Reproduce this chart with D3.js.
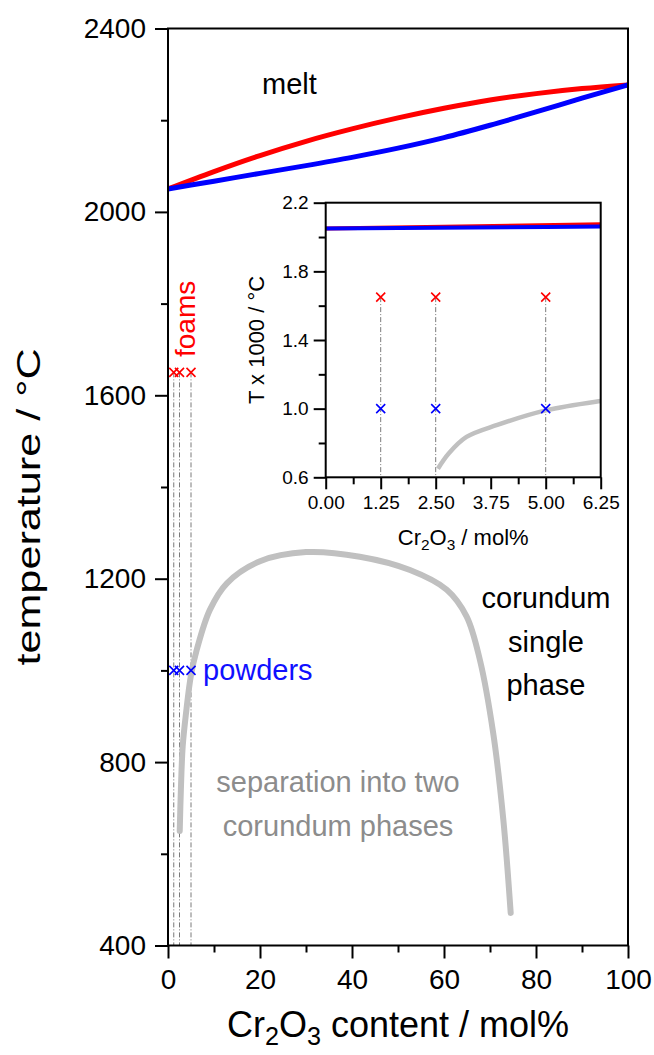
<!DOCTYPE html>
<html>
<head>
<meta charset="utf-8">
<script src="https://cdn.jsdelivr.net/npm/d3@7"></script>
<style>
  html, body { margin: 0; padding: 0; background: #fff; }
  svg { display: block; font-family: "Liberation Sans", Arial, sans-serif; }
</style>
</head>
<body>
<svg id="chart" width="654" height="1055"></svg>
<script>
// Composition axis (mol% Cr2O3) shared by the liquidus and solidus curves
const meltX = [0, 10, 20, 30, 40, 50, 60, 70, 80, 90, 100];
// Liquidus (red) and solidus (blue), °C
const liquidusT = [2050, 2088, 2123, 2154, 2181, 2205, 2226, 2244, 2258, 2269, 2277];
const solidusT  = [2050, 2067, 2084, 2101, 2119, 2139, 2162, 2189, 2218, 2248, 2277];
// Miscibility gap (grey): composition (mol%) and temperature (°C)
const gapX = [2.55, 2.8, 3.2, 3.9, 5.0, 6.25, 9.1, 12.8, 20, 30, 41.7, 52.6, 60.6, 64.9, 67.8, 70.7, 72.9, 74.5];
const gapT = [650, 740, 835, 905, 990, 1045, 1132, 1190, 1238, 1258, 1248, 1219, 1176, 1118, 1023, 863, 674, 471];
// Sample compositions and treatment temperatures
const sampleX = [1.25, 2.5, 5];
const foamT = 1650;
const powderT = 1000;
// Tick values
const mainXTicks = [0, 20, 40, 60, 80, 100];
const mainXMinor = [10, 30, 50, 70, 90];
const mainYTicks = [400, 800, 1200, 1600, 2000, 2400];
const mainYMinor = [600, 1000, 1400, 1800, 2200];
const insetXTicks = [0, 1.25, 2.5, 3.75, 5, 6.25];
const insetXMinor = [0.625, 1.875, 3.125, 4.375, 5.625];
const insetYTicks = [0.6, 1.0, 1.4, 1.8, 2.2];
const insetYMinor = [0.8, 1.2, 1.6, 2.0];

const RED = "#ff0000", BLUE = "#0000ff", GREY = "#c0c0c0", DASH = "#7a7a7a";
const svg = d3.select("#chart");

const meltData = meltX.map((x, i) => ({x, liq: liquidusT[i], sol: solidusT[i]}));
const gapData = gapX.map((x, i) => ({x, t: gapT[i]}));

// ---------- main panel ----------
const L = 168, R = 628, T = 28.5, B = 945.5;
const x = d3.scaleLinear().domain([0, 100]).range([L, R]);
const y = d3.scaleLinear().domain([400, 2400]).range([B, T]);

const main = svg.append("g");

function styleAxis(g, size) {
  g.select(".domain").remove();
  g.selectAll(".tick line").attr("stroke", "#000").attr("stroke-width", 2);
  g.selectAll(".tick text").attr("fill", "#000").attr("font-size", size)
    .attr("font-family", "'Liberation Sans', Arial, sans-serif");
}

main.append("g").attr("transform", `translate(0,${B})`)
  .call(d3.axisBottom(x).tickValues(mainXMinor).tickSize(7).tickFormat(""))
  .call(g => styleAxis(g, 28));
main.append("g").attr("transform", `translate(0,${B})`)
  .call(d3.axisBottom(x).tickValues(mainXTicks).tickSize(13).tickPadding(11).tickFormat(d3.format("d")))
  .call(g => styleAxis(g, 28));
main.append("g").attr("transform", `translate(${L},0)`)
  .call(d3.axisLeft(y).tickValues(mainYMinor).tickSize(7).tickFormat(""))
  .call(g => styleAxis(g, 28));
main.append("g").attr("transform", `translate(${L},0)`)
  .call(d3.axisLeft(y).tickValues(mainYTicks).tickSize(13).tickPadding(9).tickFormat(d3.format("d")))
  .call(g => styleAxis(g, 28));

// guide lines from the sample markers down to the axis
main.selectAll("line.guide").data(sampleX).join("line")
  .attr("x1", d => x(d)).attr("x2", d => x(d))
  .attr("y1", y(foamT)).attr("y2", y(400))
  .attr("stroke", DASH).attr("stroke-width", 1).attr("stroke-dasharray", "5,2,1,2");

const lineMain = (acc, curve) => d3.line().x(d => x(d.x)).y(d => y(acc(d))).curve(curve);

main.append("path").datum(gapData)
  .attr("d", lineMain(d => d.t, d3.curveCatmullRom.alpha(0.5)))
  .attr("fill", "none").attr("stroke", GREY).attr("stroke-width", 6).attr("stroke-linecap", "round");
main.append("path").datum(meltData)
  .attr("d", lineMain(d => d.liq, d3.curveMonotoneX))
  .attr("fill", "none").attr("stroke", RED).attr("stroke-width", 5);
main.append("path").datum(meltData)
  .attr("d", lineMain(d => d.sol, d3.curveMonotoneX))
  .attr("fill", "none").attr("stroke", BLUE).attr("stroke-width", 5);

function crosses(g, xs, t, sx, sy, color, r) {
  g.selectAll(null).data(xs).join("path")
    .attr("d", d => {
      const cx = sx(d), cy = sy(t);
      return `M${cx - r},${cy - r}L${cx + r},${cy + r}M${cx - r},${cy + r}L${cx + r},${cy - r}`;
    })
    .attr("stroke", color).attr("stroke-width", 1.6).attr("fill", "none");
}
crosses(main, sampleX, foamT, x, y, RED, 4.5);
crosses(main, sampleX, powderT, x, y, BLUE, 4.5);

main.append("rect").attr("x", L).attr("y", T).attr("width", R - L).attr("height", B - T)
  .attr("fill", "none").attr("stroke", "#000").attr("stroke-width", 2);

// annotations
main.append("text").attr("x", 262).attr("y", 94).attr("font-size", 29).text("melt");
main.append("text").attr("transform", `translate(195,357) rotate(-90)`)
  .attr("font-size", 28).attr("fill", RED).text("foams");
main.append("text").attr("x", 203).attr("y", 680).attr("font-size", 29).attr("fill", "#1010ff").text("powders");
const cor = main.append("text").attr("font-size", 29).attr("text-anchor", "middle");
["corundum", "single", "phase"].forEach((s, i) =>
  cor.append("tspan").attr("x", 546).attr("y", 608 + i * 43.5).text(s));
const sep = main.append("text").attr("font-size", 29).attr("text-anchor", "middle").attr("fill", "#8c8c8c");
["separation into two", "corundum phases"].forEach((s, i) =>
  sep.append("tspan").attr("x", 338).attr("y", 792 + i * 43.5).text(s));

// axis titles
main.append("text").attr("transform", `translate(40,507) rotate(-90) scale(1.27,1)`)
  .attr("text-anchor", "middle").attr("font-size", 34).text("temperature / °C");
function cr2o3(sel, rest) {
  sel.append("tspan").text("Cr");
  sel.append("tspan").attr("font-size", "0.7em").attr("dy", "0.3em").text("2");
  sel.append("tspan").attr("dy", "-0.21em").text("O");
  sel.append("tspan").attr("font-size", "0.7em").attr("dy", "0.3em").text("3");
  sel.append("tspan").attr("dy", "-0.21em").text(rest);
}
main.append("text").attr("x", (L + R) / 2).attr("y", 1037).attr("text-anchor", "middle")
  .attr("font-size", 36).call(s => cr2o3(s, " content / mol%"));

// ---------- inset: Al2O3-rich corner ----------
const iL = 325.7, iR = 600.7, iT = 202.7, iB = 477.3;
const ix = d3.scaleLinear().domain([0, 6.25]).range([iL, iR]);
const iy = d3.scaleLinear().domain([0.6, 2.2]).range([iB, iT]);
const inset = svg.append("g");

inset.append("rect").attr("x", iL).attr("y", iT).attr("width", iR - iL).attr("height", iB - iT).attr("fill", "#fff");
svg.append("clipPath").attr("id", "insetClip").append("rect")
  .attr("x", iL).attr("y", iT).attr("width", iR - iL).attr("height", iB - iT);

inset.append("g").attr("transform", `translate(0,${iB})`)
  .call(d3.axisBottom(ix).tickValues(insetXMinor).tickSize(7).tickFormat(""))
  .call(g => styleAxis(g, 19));
inset.append("g").attr("transform", `translate(0,${iB})`)
  .call(d3.axisBottom(ix).tickValues(insetXTicks).tickSize(12).tickPadding(6).tickFormat(d3.format(".2f")))
  .call(g => styleAxis(g, 19));
inset.append("g").attr("transform", `translate(${iL},0)`)
  .call(d3.axisLeft(iy).tickValues(insetYMinor).tickSize(7).tickFormat(""))
  .call(g => styleAxis(g, 19));
inset.append("g").attr("transform", `translate(${iL},0)`)
  .call(d3.axisLeft(iy).tickValues(insetYTicks).tickSize(12).tickPadding(5).tickFormat(d3.format(".1f")))
  .call(g => styleAxis(g, 19));

const plotIn = inset.append("g").attr("clip-path", "url(#insetClip)");
plotIn.selectAll("line.guide").data(sampleX).join("line")
  .attr("x1", d => ix(d)).attr("x2", d => ix(d))
  .attr("y1", iy(foamT / 1000)).attr("y2", iB)
  .attr("stroke", DASH).attr("stroke-width", 1).attr("stroke-dasharray", "5,2,1,2");

const lineIn = (acc, curve) => d3.line().x(d => ix(d.x)).y(d => iy(acc(d) / 1000)).curve(curve);
plotIn.append("path").datum(gapData)
  .attr("d", lineIn(d => d.t, d3.curveCatmullRom.alpha(0.5)))
  .attr("fill", "none").attr("stroke", GREY).attr("stroke-width", 4.5);
plotIn.append("path").datum(meltData)
  .attr("d", lineIn(d => d.liq, d3.curveMonotoneX))
  .attr("fill", "none").attr("stroke", RED).attr("stroke-width", 4);
plotIn.append("path").datum(meltData)
  .attr("d", lineIn(d => d.sol, d3.curveMonotoneX))
  .attr("fill", "none").attr("stroke", BLUE).attr("stroke-width", 4);

const iyK = v => iy(v / 1000);
crosses(inset, sampleX, foamT, ix, iyK, RED, 4.5);
crosses(inset, sampleX, powderT, ix, iyK, BLUE, 4.5);

inset.append("rect").attr("x", iL).attr("y", iT).attr("width", iR - iL).attr("height", iB - iT)
  .attr("fill", "none").attr("stroke", "#000").attr("stroke-width", 2);

inset.append("text").attr("transform", `translate(264,${(iT + iB) / 2}) rotate(-90)`)
  .attr("text-anchor", "middle").attr("font-size", 22).text("T x 1000 / °C");
inset.append("text").attr("x", (iL + iR) / 2).attr("y", 545).attr("text-anchor", "middle")
  .attr("font-size", 22).call(s => cr2o3(s, " / mol%"));
</script>
</body>
</html>
